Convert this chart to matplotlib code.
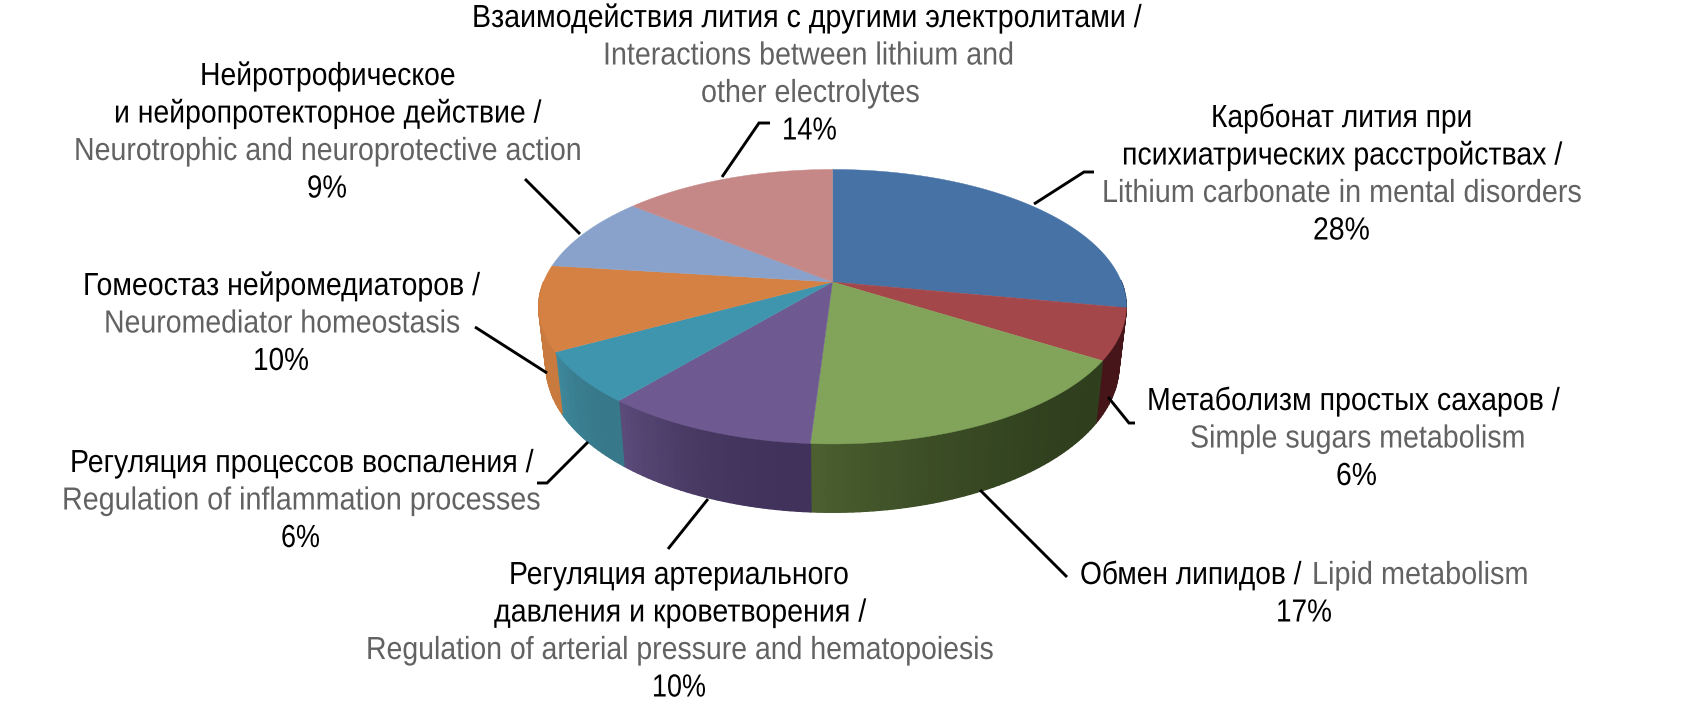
import numpy as np
import matplotlib
matplotlib.use('Agg')
import matplotlib.pyplot as plt
from matplotlib.patheffects import AbstractPathEffect
from matplotlib.transforms import Affine2D

values = [28, 6, 17, 10, 6, 10, 9, 14]
labels_ru = [
    ['Карбонат лития при', 'психиатрических расстройствах /'],
    ['Метаболизм простых сахаров /'],
    ['Обмен липидов /'],
    ['Регуляция артериального', 'давления и кроветворения /'],
    ['Регуляция процессов воспаления /'],
    ['Гомеостаз нейромедиаторов /'],
    ['Нейротрофическое', 'и нейропротекторное действие /'],
    ['Взаимодействия лития с другими электролитами /'],
]
labels_en = [
    ['Lithium carbonate in mental disorders'],
    ['Simple sugars metabolism'],
    ['Lipid metabolism'],
    ['Regulation of arterial pressure and hematopoiesis'],
    ['Regulation of inflammation processes'],
    ['Neuromediator homeostasis'],
    ['Neurotrophic and neuroprotective action'],
    ['Interactions between lithium and', 'other electrolytes'],
]
top_colors = ['#4672a6', '#a4474a', '#82a45a', '#6e5a90', '#3f95ad', '#d58144', '#88a2cb', '#c68887']
wall_left = ['#2a4468', '#451519', '#4c6030', '#5d4c7c', '#3f8a9e', '#c87a3f', '#5d6f8c', '#8a5e5d']
wall_right = ['#2a4468', '#451519', '#2f3f1e', '#40325a', '#37788a', '#c87a3f', '#5d6f8c', '#8a5e5d']

# first baseline of each label, pixels
label_y = [127, 410, 584, 584, 472, 295, 85, 27]
# left and right edge of every text line, pixels (russian, english, percent)
ru_x = [
    [(1211, 1473), (1122, 1563)],
    [(1147, 1561)],
    [(1080, 1302)],
    [(509, 850), (494, 867)],
    [(70, 535)],
    [(83, 481)],
    [(200, 456), (114, 542)],
    [(472, 1143)],
]
en_x = [
    [(1102, 1583)],
    [(1190, 1526)],
    [(1312, 1529)],
    [(366, 995)],
    [(62, 542)],
    [(104, 461)],
    [(74, 583)],
    [(603, 1015), (701, 920)],
]
pct_x = [(1313, 1370), (1336, 1377), (1276, 1332), (652, 706), (281, 320), (253, 309), (307, 347), (782, 837)]
# leader lines in pixels
leaders = [
    [(1034, 204), (1084, 172), (1094, 172)],
    [(1108, 397), (1129, 423), (1135, 423)],
    [(980, 490), (1067, 577)],
    [(708, 499), (668, 549)],
    [(588, 442), (547, 483), (537, 483)],
    [(547, 373), (475, 327)],
    [(580, 234), (525, 179)],
    [(722, 177), (759, 123), (770, 123)],
]


class Squeeze(AbstractPathEffect):
    # the condensed face of the original is not installed, so narrow the glyphs
    def __init__(self, sx, x0):
        super().__init__()
        self.sx = sx
        self.x0 = x0

    def draw_path(self, renderer, gc, tpath, affine, rgbFace=None):
        squeeze = Affine2D().translate(-self.x0, 0).scale(self.sx, 1).translate(self.x0, 0)
        renderer.draw_path(gc, tpath, affine + squeeze, rgbFace)


plt.rcParams['font.family'] = ['Liberation Sans']
fig = plt.figure(figsize=(16.83, 7.2), dpi=100)
ax = fig.add_axes([0, 0, 1, 1])
ax.set_xlim(0, 1683)
ax.set_ylim(720, 0)
ax.axis('off')
renderer = fig.canvas.get_renderer()

cx, cy = 832.5, 282
k, A, B = 0.18, 289, 132.8


def rim(a):
    # a is clockwise from 12 o'clock, camera is above the near edge
    u, v = np.sin(a), np.cos(a)
    w = 1 + k * v
    return A * u / w, B * -v / w


def hex2rgb(c):
    return np.array(matplotlib.colors.to_rgb(c))


def put_line(s, left, right, y, color):
    t = ax.text(left, y, s, color=color, fontsize=23, ha='left', va='baseline')
    width = t.get_window_extent(renderer).width
    t.set_path_effects([Squeeze((right - left) / width, left)])


fracs = np.array(values) / sum(values)
edges = np.concatenate([[0], np.cumsum(fracs)]) * 2 * np.pi

# side wall first, the top covers what is behind it
for i in range(len(values)):
    n = max(int((edges[i + 1] - edges[i]) / 0.02), 2)
    aa = np.linspace(edges[i], edges[i + 1], n + 1)
    X, Y = rim(aa)
    Xb, Yb = X * 0.975, Y * 1.07 + 57
    c0, c1 = hex2rgb(wall_right[i]), hex2rgb(wall_left[i])
    for j in range(n):
        # back half never shows
        if np.cos(aa[j]) > 0 and np.cos(aa[j + 1]) > 0:
            continue
        c = c0 + (c1 - c0) * (j / n) ** 2
        ax.fill([cx + X[j], cx + X[j + 1], cx + Xb[j + 1], cx + Xb[j]],
                [cy + Y[j], cy + Y[j + 1], cy + Yb[j + 1], cy + Yb[j]],
                color=c, lw=1.0, zorder=2)

for i in range(len(values)):
    aa = np.linspace(edges[i], edges[i + 1], 150)
    X, Y = rim(aa)
    ax.fill(np.r_[cx, cx + X], np.r_[cy, cy + Y], color=top_colors[i], lw=0.3, zorder=3)

for pts in leaders:
    xs, ys = zip(*pts)
    ax.plot(xs, ys, color='black', lw=2.1, solid_capstyle='butt', solid_joinstyle='miter', zorder=4)

lh = 37.5
for i in range(len(values)):
    y = label_y[i]
    for s, (l, r) in zip(labels_ru[i], ru_x[i]):
        put_line(s, l, r, y, 'black')
        if i != 2:
            y += lh
    for s, (l, r) in zip(labels_en[i], en_x[i]):
        put_line(s, l, r, y, '#626262')
        y += lh
    put_line(f'{values[i]}%', pct_x[i][0], pct_x[i][1], y, 'black')

fig.savefig('out.png', dpi=100)
